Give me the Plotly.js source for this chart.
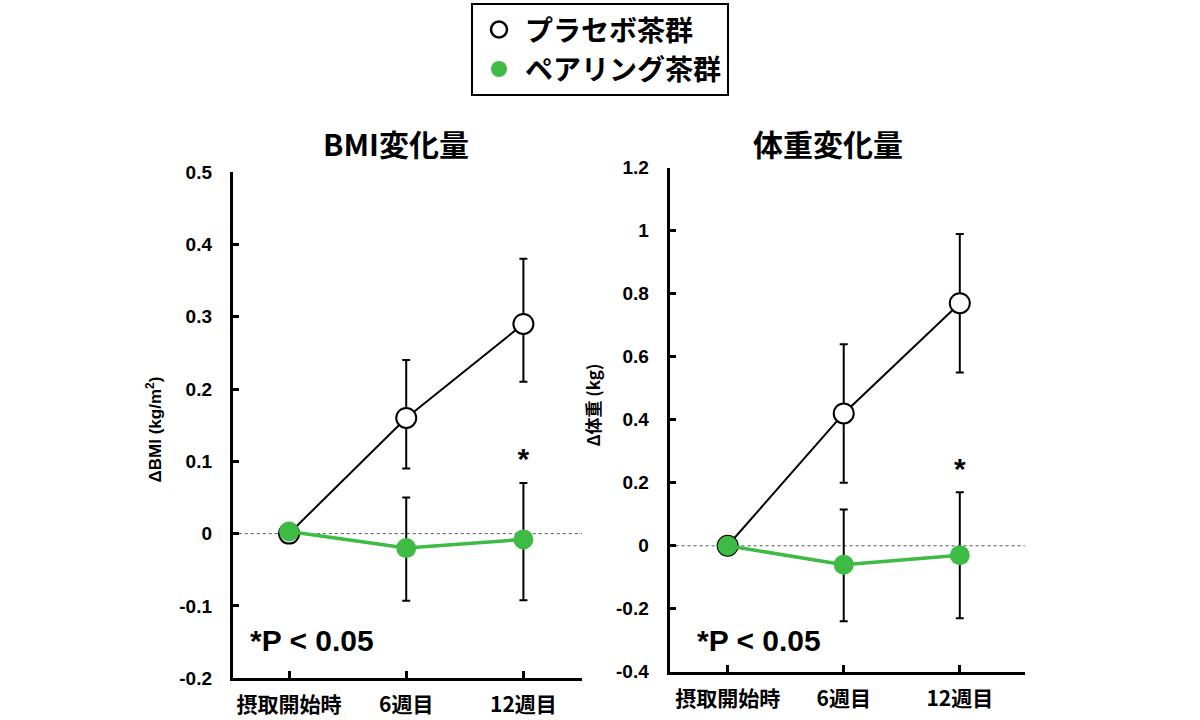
<!DOCTYPE html>
<html lang="ja">
<head>
<meta charset="UTF-8">
<title>BMI・体重変化量</title>
<script src="https://cdn.plot.ly/plotly-3.0.1.min.js"></script>
<style>
  body { margin: 0; background: white; }
  #plot { width: 1200px; height: 720px; }
</style>
</head>
<body>
<div id="plot"></div>
<script>
  const categories = ['摂取開始時', '6週目', '12週目'];

  // BMI change (kg/m2)
  const bmiPlacebo = [0, 0.16, 0.29];
  const bmiPlaceboErrUp = [0, 0.08, 0.09];
  const bmiPlaceboErrDown = [0, 0.07, 0.08];
  const bmiPairing = [0.003, -0.02, -0.008];
  const bmiPairingErrUp = [0, 0.07, 0.078];
  const bmiPairingErrDown = [0, 0.073, 0.084];
  const bmiSig = [null, null, 0.10];
  const bmiTicks = [-0.2, -0.1, 0, 0.1, 0.2, 0.3, 0.4, 0.5];
  const bmiTickText = ['-0.2', '-0.1', '0', '0.1', '0.2', '0.3', '0.4', '0.5'];

  // body weight change (kg)
  const wtPlacebo = [0, 0.42, 0.77];
  const wtPlaceboErrUp = [0, 0.22, 0.22];
  const wtPlaceboErrDown = [0, 0.22, 0.22];
  const wtPairing = [0, -0.06, -0.03];
  const wtPairingErrUp = [0, 0.175, 0.2];
  const wtPairingErrDown = [0, 0.18, 0.2];
  const wtSig = [null, null, 0.235];
  const wtTicks = [-0.4, -0.2, 0, 0.2, 0.4, 0.6, 0.8, 1, 1.2];
  const wtTickText = ['-0.4', '-0.2', '0', '0.2', '0.4', '0.6', '0.8', '1', '1.2'];

  const GREEN = '#3dbb45';
  const FONT = 'Liberation Sans, Arial, "Noto Sans CJK JP", sans-serif';
  const JFONT = '"Noto Sans CJK JP", Liberation Sans, sans-serif';

  function errBar(up, down) {
    return {type: 'data', symmetric: false, array: up, arrayminus: down,
            color: 'black', thickness: 2, width: 4};
  }

  function panel(xa, ya, placebo, pUp, pDown, pairing, gUp, gDown, sig) {
    return [
      {
        x: categories, y: placebo, xaxis: xa, yaxis: ya,
        type: 'scatter', mode: 'lines+markers', showlegend: false,
        line: {color: 'black', width: 2},
        marker: {size: 20, color: 'white', line: {color: 'black', width: 2}},
        error_y: errBar(pUp, pDown)
      },
      {
        x: categories, y: pairing, xaxis: xa, yaxis: ya,
        type: 'scatter', mode: 'lines+markers', showlegend: false,
        line: {color: GREEN, width: 3.5},
        marker: {size: 20, color: GREEN},
        error_y: errBar(gUp, gDown)
      },
      {
        x: categories, y: sig, xaxis: xa, yaxis: ya,
        type: 'scatter', mode: 'text', text: categories.map(() => '*'),
        textfont: {family: FONT, size: 30, color: 'black', weight: 'bold'},
        showlegend: false, hoverinfo: 'skip'
      }
    ];
  }

  const traces = [
    ...panel('x', 'y', bmiPlacebo, bmiPlaceboErrUp, bmiPlaceboErrDown,
             bmiPairing, bmiPairingErrUp, bmiPairingErrDown, bmiSig),
    ...panel('x2', 'y2', wtPlacebo, wtPlaceboErrUp, wtPlaceboErrDown,
             wtPairing, wtPairingErrUp, wtPairingErrDown, wtSig),
    // legend-only entries
    {
      x: [null], y: [null], type: 'scatter', mode: 'markers', name: 'プラセボ茶群',
      marker: {size: 22, color: 'white', line: {color: 'black', width: 2.5}}
    },
    {
      x: [null], y: [null], type: 'scatter', mode: 'markers', name: 'ペアリング茶群',
      marker: {size: 22, color: GREEN}
    }
  ];

  const xBase = {
    type: 'category', showgrid: false, zeroline: false,
    showline: true, linecolor: 'black', linewidth: 3,
    ticks: 'inside', ticklen: 7, tickwidth: 3, tickcolor: 'black',
    tickfont: {family: JFONT, size: 21, color: 'black', weight: 'bold'},
    ticklabelstandoff: 6,
    fixedrange: true
  };
  const yBase = {
    showgrid: false, zeroline: false,
    showline: true, linecolor: 'black', linewidth: 3,
    ticks: 'inside', ticklen: 6, tickwidth: 3, tickcolor: 'black',
    tickmode: 'array',
    tickfont: {family: FONT, size: 19, color: 'black', weight: 'bold'},
    ticklabelstandoff: 14,
    fixedrange: true
  };

  const layout = {
    width: 1200, height: 720,
    margin: {l: 0, r: 0, t: 0, b: 0},
    paper_bgcolor: 'white', plot_bgcolor: 'white',
    xaxis: {...xBase, domain: [0.194, 0.485], range: [-0.48, 2.5], anchor: 'y'},
    yaxis: {...yBase, domain: [0.058, 0.761], range: [-0.2, 0.5],
            tickvals: bmiTicks, ticktext: bmiTickText, anchor: 'x'},
    xaxis2: {...xBase, domain: [0.558, 0.854], range: [-0.5, 2.56], anchor: 'y2'},
    yaxis2: {...yBase, domain: [0.067, 0.767], range: [-0.4, 1.2],
             tickvals: wtTicks, ticktext: wtTickText, anchor: 'x2'},
    showlegend: true,
    legend: {
      x: 0.5, y: 0.996, xanchor: 'center', yanchor: 'top',
      bordercolor: 'black', borderwidth: 2, bgcolor: 'white',
      font: {family: JFONT, size: 28, color: 'black', weight: 'bold'},
      itemsizing: 'trace', itemwidth: 42, tracegroupgap: 4
    },
    shapes: [
      {type: 'line', xref: 'x domain', yref: 'y', x0: 0, x1: 1, y0: 0, y1: 0,
       line: {color: '#555', width: 1, dash: 'dot'}, layer: 'below'},
      {type: 'line', xref: 'x2 domain', yref: 'y2', x0: 0, x1: 1, y0: 0, y1: 0,
       line: {color: '#555', width: 1, dash: 'dot'}, layer: 'below'}
    ],
    annotations: [
      {text: 'BMI変化量', xref: 'paper', yref: 'paper', x: 0.33, y: 0.801,
       xanchor: 'center', yanchor: 'middle', showarrow: false,
       font: {family: JFONT, size: 30, color: 'black', weight: 'bold'}},
      {text: '体重変化量', xref: 'paper', yref: 'paper', x: 0.69, y: 0.801,
       xanchor: 'center', yanchor: 'middle', showarrow: false,
       font: {family: JFONT, size: 30, color: 'black', weight: 'bold'}},
      {text: 'ΔBMI (kg/m<sup>2</sup>)', xref: 'paper', yref: 'paper', x: 0.128, y: 0.403,
       xanchor: 'center', yanchor: 'middle', textangle: -90, showarrow: false,
       font: {family: FONT, size: 17, color: 'black', weight: 'bold'}},
      {text: 'Δ体重 (kg)', xref: 'paper', yref: 'paper', x: 0.493, y: 0.4375,
       xanchor: 'center', yanchor: 'middle', textangle: -90, showarrow: false,
       font: {family: JFONT, size: 17, color: 'black', weight: 'bold'}},
      {text: '*P < 0.05', xref: 'paper', yref: 'paper', x: 0.207, y: 0.111,
       xanchor: 'left', yanchor: 'middle', showarrow: false,
       font: {family: FONT, size: 30, color: 'black', weight: 'bold'}},
      {text: '*P < 0.05', xref: 'paper', yref: 'paper', x: 0.579, y: 0.111,
       xanchor: 'left', yanchor: 'middle', showarrow: false,
       font: {family: FONT, size: 30, color: 'black', weight: 'bold'}}
    ]
  };

  Plotly.newPlot('plot', traces, layout, {displayModeBar: false, staticPlot: true});
</script>
</body>
</html>
